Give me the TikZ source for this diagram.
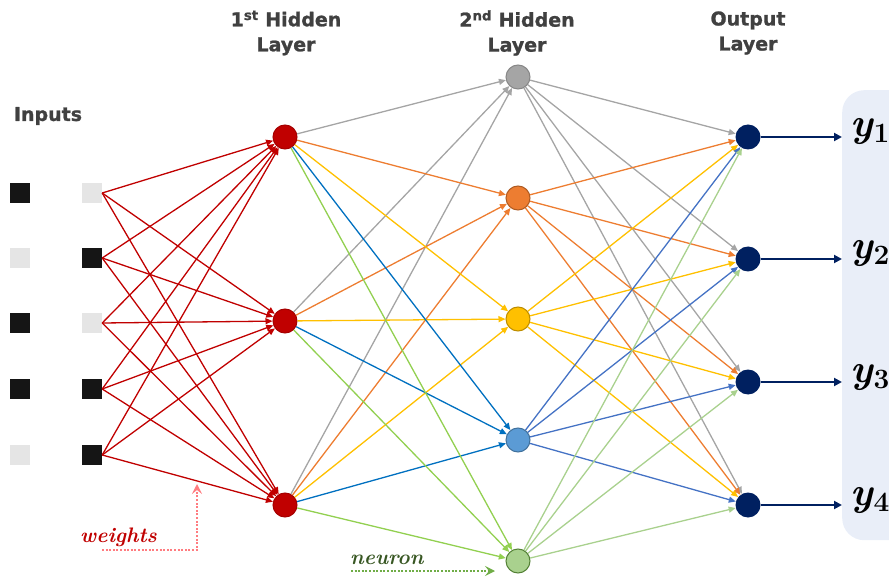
\documentclass[tikz,border=0pt]{standalone}
\usepackage{fontspec}
\newfontfamily\headfont[BoldFeatures={FakeBold=1.2}]{DejaVu Sans}
\usetikzlibrary{arrows.meta}

% palette
\definecolor{cRed}{HTML}{C00000}
\definecolor{cRedLine}{HTML}{A50000}
\definecolor{cGray}{HTML}{A5A5A5}
\definecolor{cGrayLine}{HTML}{878787}
\definecolor{cOrange}{HTML}{ED7D31}
\definecolor{cOrangeLine}{HTML}{AE5A21}
\definecolor{cYellow}{HTML}{FFC000}
\definecolor{cYellowLine}{HTML}{BC8C00}
\definecolor{cBlue}{HTML}{5B9BD5}
\definecolor{cBlueLine}{HTML}{41719C}
\definecolor{cBlueIn}{HTML}{0070C0}
\definecolor{cBlueOut}{HTML}{4472C4}
\definecolor{cGreen}{HTML}{A9D18E}
\definecolor{cGreenLine}{HTML}{538135}
\definecolor{cGreenIn}{HTML}{92D050}
\definecolor{cGreenOut}{HTML}{A9D18E}
\definecolor{cNavy}{HTML}{002060}
\definecolor{cPanel}{HTML}{E9EEF8}
\definecolor{cText}{HTML}{404040}
\definecolor{cSqDark}{HTML}{151515}
\definecolor{cSqLight}{HTML}{E5E5E5}
\definecolor{cWeightsArrow}{HTML}{FF7C80}
\definecolor{cNeuron}{HTML}{385723}
\definecolor{cNeuronArrow}{HTML}{70AD47}

% bold italic y with a bold upright index
\newcommand{\outlabel}[1]{{\bfseries\itshape y}\kern1pt\raisebox{-6pt}{\fontsize{28}{28}\selectfont\bfseries\upshape #1}}

\begin{document}
\begin{tikzpicture}[x=1pt,y=-1pt,
  sq/.style={rectangle, minimum size=20pt, inner sep=0pt},
  sqdark/.style={sq, fill=cSqDark},
  sqlight/.style={sq, fill=cSqLight},
  neuronnode/.style={circle, minimum size=24pt, inner sep=0pt, line width=1pt},
  outnode/.style={circle, minimum size=25pt, inner sep=0pt, fill=cNavy},
  edge/.style={line width=1.3pt, -{Triangle[length=7pt,width=6pt]}},
  outarrow/.style={cNavy, line width=2.4pt, -{Triangle[length=8pt,width=8pt]}},
  title/.style={font=\headfont\bfseries\fontsize{19}{25}\selectfont, text=cText, align=center},
  ylabel/.style={anchor=base west, inner sep=0pt, font=\fontsize{40}{40}\selectfont},
  note/.style={anchor=base west, inner sep=0pt, font=\bfseries\itshape\fontsize{21}{21}\selectfont},
  pointer/.style={line width=2pt, dash pattern=on 2pt off 1.6pt, -{Stealth[length=10pt,width=10pt,inset=4pt]}}
]
\useasboundingbox (0,0) rectangle (889,577);
\clip (0,0) rectangle (889,577);

% output panel
\node[rectangle, fill=cPanel, rounded corners=22pt, anchor=north west,
      minimum width=90pt, minimum height=450pt, inner sep=0pt] (panel) at (842,90) {};

% titles
\node[title] (tin) at (48,116) {Inputs};
\node[title] (th1) at (286,33) {1\textsuperscript{st} Hidden\\Layer};
\node[title] (th2) at (517,33) {2\textsuperscript{nd} Hidden\\Layer};
\node[title] (tout) at (748,33) {Output\\Layer};

% input pixels
\node[sqdark]  (a1) at (19.5,193) {};
\node[sqlight] (a2) at (19.5,258) {};
\node[sqdark]  (a3) at (19.5,323) {};
\node[sqdark]  (a4) at (19.5,389) {};
\node[sqlight] (a5) at (19.5,455) {};
\node[sqlight] (b1) at (92,193) {};
\node[sqdark]  (b2) at (92,258) {};
\node[sqlight] (b3) at (92,323) {};
\node[sqdark]  (b4) at (92,389) {};
\node[sqdark]  (b5) at (92,455) {};

% first hidden layer
\node[neuronnode, fill=cRed, draw=cRedLine] (h1) at (285,137) {};
\node[neuronnode, fill=cRed, draw=cRedLine] (h2) at (285,321) {};
\node[neuronnode, fill=cRed, draw=cRedLine] (h3) at (285,505) {};

% second hidden layer
\node[neuronnode, fill=cGray,   draw=cGrayLine]   (g1) at (518,77) {};
\node[neuronnode, fill=cOrange, draw=cOrangeLine] (g2) at (518,198) {};
\node[neuronnode, fill=cYellow, draw=cYellowLine] (g3) at (518,319) {};
\node[neuronnode, fill=cBlue,   draw=cBlueLine]   (g4) at (518,440) {};
\node[neuronnode, fill=cGreen,  draw=cGreenLine]  (g5) at (518,561) {};

% output layer
\node[outnode] (o1) at (748,137) {};
\node[outnode] (o2) at (748,259) {};
\node[outnode] (o3) at (748,382) {};
\node[outnode] (o4) at (748,505) {};

% weights: inputs -> first hidden layer
\foreach \i in {1,...,5}
  \foreach \j in {1,2,3}
    \draw[edge, cRed] (b\i.east) -- (h\j);

% first -> second hidden layer, coloured by target neuron
\foreach \j/\c in {1/cGray,2/cOrange,3/cYellow,4/cBlueIn,5/cGreenIn}
  \foreach \i in {1,2,3}
    \draw[edge, \c] (h\i) -- (g\j);

% second hidden layer -> outputs, coloured by source neuron
\foreach \j/\c in {1/cGray,2/cOrange,3/cYellow,4/cBlueOut,5/cGreenOut}
  \foreach \k in {1,...,4}
    \draw[edge, \c] (g\j) -- (o\k);

% outputs
\foreach \k in {1,...,4}
  \draw[outarrow] (o\k) -- (o\k -| panel.west);

\node[ylabel] (y1) at (850,137) {\outlabel{1}};
\node[ylabel] (y2) at (850,259) {\outlabel{2}};
\node[ylabel] (y3) at (850,382) {\outlabel{3}};
\node[ylabel] (y4) at (850,505) {\outlabel{4}};

% annotations
\node[note, text=cRed] (wlab) at (80,542) {weights};
\coordinate (wstart) at (102,550);
\coordinate (wtip) at (197,484);
\draw[pointer, cWeightsArrow] (wstart) -| (wtip);

\node[note, text=cNeuron] (nlab) at (350,564) {neuron};
\coordinate (nstart) at (351,571);
\coordinate (ntip) at (495,571);
\draw[pointer, cNeuronArrow] (nstart) -- (ntip);
\end{tikzpicture}
\end{document}
